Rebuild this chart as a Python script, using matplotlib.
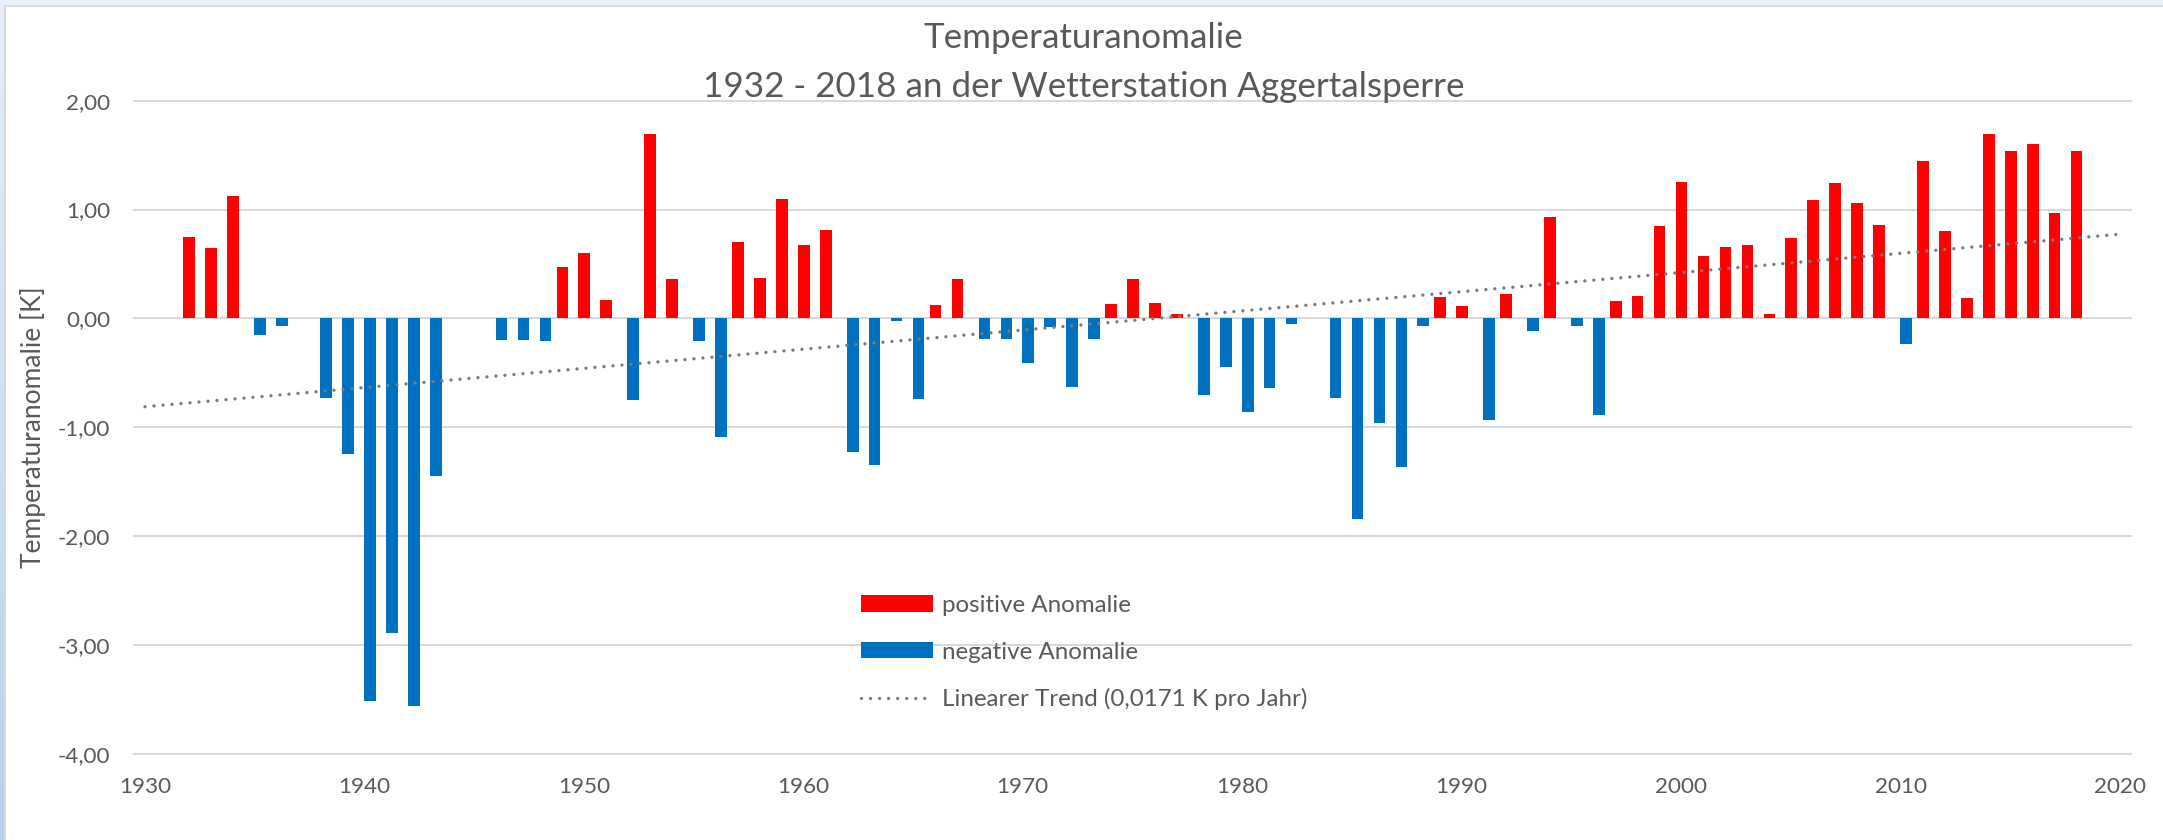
import numpy as np
import matplotlib
matplotlib.use("Agg")
import matplotlib.pyplot as plt
from matplotlib.patches import Patch, Rectangle
from matplotlib.lines import Line2D
from matplotlib.colors import LinearSegmentedColormap
from matplotlib.ticker import FuncFormatter

nan = np.nan

# ---------------- data ----------------
years = list(range(1932, 2019))
anomaly = [
    0.75, 0.65, 1.12, -0.15, -0.07, nan, -0.73, -1.25, -3.52, -2.89, -3.56, -1.45,   # 1932-1943
    nan, nan,                                                                          # 1944-1945
    -0.20, -0.20, -0.21, 0.47, 0.60, 0.17, -0.75, 1.69, 0.36, -0.21, -1.09,            # 1946-1956
    0.70, 0.37, 1.10, 0.67, 0.81, -1.23, -1.35, -0.02, -0.74, 0.12, 0.36,              # 1957-1967
    -0.19, -0.19, -0.41, -0.08, -0.63, -0.19, 0.13, 0.36, 0.14, 0.04, -0.70, -0.45,
    -0.86, -0.64, -0.05,                                                               # 1968-1982
    nan,                                                                               # 1983
    -0.73, -1.84, -0.96, -1.37, -0.07, 0.20, 0.11, -0.93, 0.22, -0.12, 0.93, -0.07,
    -0.89, 0.16, 0.21,                                                                 # 1984-1998
    0.85, 1.25, 0.57, 0.66, 0.67, 0.04, 0.74, 1.09, 1.24, 1.06, 0.86, -0.24, 1.45,
    0.80, 0.19, 1.69, 1.54, 1.60, 0.97, 1.54,                                          # 1999-2018
]
x_ticks = [1930, 1940, 1950, 1960, 1970, 1980, 1990, 2000, 2010, 2020]
y_ticks = [-4, -3, -2, -1, 0, 1, 2]
title_line1 = "Temperaturanomalie"
title_line2 = "1932 - 2018 an der Wetterstation Aggertalsperre"
y_label = "Temperaturanomalie [K]"
legend_labels = ["positive Anomalie", "negative Anomalie", "Linearer Trend (0,0171 K pro Jahr)"]
trend_range = [1930, 2020]

# ---------------- styles ----------------
RED = "#FF0000"
BLUE = "#0070C0"
TXT = "#595959"
GRID = "#D9D9D9"
TREND = "#7A7A7A"
plt.rcParams['font.family'] = ['Lato', 'DejaVu Sans']

W, H = 2163, 840
fig = plt.figure(figsize=(W / 100, H / 100), dpi=100)
fig.patch.set_facecolor("white")

left_px, right_px, top_px, bot_px = 134, 2131, 100.7, 753.7
ax = fig.add_axes([left_px / W, 1 - bot_px / H, (right_px - left_px) / W, (bot_px - top_px) / H])

yrs = np.array(years, dtype=float)
vals = np.array(anomaly, dtype=float)
pos = np.where(vals >= 0, vals, np.nan)
neg = np.where(vals < 0, vals, np.nan)

bw = 0.53
ax.bar(yrs + 0.02, pos, width=bw, color=RED, edgecolor="none", zorder=2)
ax.bar(yrs + 0.25, neg, width=bw, color=BLUE, edgecolor="none", zorder=2)

# linear trend fitted to data
m = ~np.isnan(vals)
slope, intercept = np.polyfit(yrs[m], vals[m], 1)
tx = np.array(trend_range, dtype=float)
dot_lw = 2.4
dot_style = (0, (0.01, 2.7))
ax.plot(tx, slope * tx + intercept, color=TREND, lw=dot_lw, linestyle=dot_style,
        dash_capstyle="round", zorder=3)

ax.set_xlim(1929.5, 2020.5)
ax.set_ylim(-4, 2)
ax.set_xticks(x_ticks)
ax.set_yticks(y_ticks)
ax.yaxis.set_major_formatter(FuncFormatter(lambda v, p: f"{v:.2f}".replace(".", ",")))
for s in ax.spines.values():
    s.set_visible(False)
ax.yaxis.grid(True, color=GRID, lw=1.5, zorder=0)
ax.set_axisbelow(True)
ax.tick_params(axis="both", length=0, labelsize=16.2, labelcolor=TXT)
ax.tick_params(axis="y", pad=17)
ax.tick_params(axis="x", pad=17)
for gl in ax.yaxis.get_gridlines():
    gl.set_clip_on(False)

handles = [Patch(facecolor=RED, edgecolor="none"),
           Patch(facecolor=BLUE, edgecolor="none"),
           Line2D([], [], color=TREND, lw=dot_lw, linestyle=dot_style, dash_capstyle="round")]
ax.legend(handles, legend_labels, loc="upper left", bbox_to_anchor=(0.364, 0.243),
          frameon=False, fontsize=17.4, labelcolor=TXT, handlelength=3.0,
          handleheight=0.65, handletextpad=0.34, labelspacing=1.06,
          borderpad=0, borderaxespad=0)

fig.text(0.501, 1 - 47.7 / H, title_line1, ha="center", va="baseline", fontsize=25.2, color=TXT)
fig.text(0.501, 1 - 96.7 / H, title_line2, ha="center", va="baseline", fontsize=25.2, color=TXT)
fig.text(33 / W, 1 - 427 / H, y_label, rotation=90, ha="center", va="center", fontsize=19, color=TXT)

# window frame decoration
fig.add_artist(Rectangle((0, 1 - 5 / H), 1, 5 / H, transform=fig.transFigure,
                         facecolor="#E9F1FA", edgecolor="none", zorder=5))
fig.add_artist(Rectangle((4 / W, 1 - 6.7 / H), 1, 1.7 / H, transform=fig.transFigure,
                         facecolor=GRID, edgecolor="none", zorder=5))
gax = fig.add_axes([0, 0, 4 / W, 1 - 5 / H])
cmap = LinearSegmentedColormap.from_list("edge", ["#E7EFF9", "#B3D2F0"])
gax.imshow(np.linspace(0, 1, 256).reshape(-1, 1), aspect="auto", cmap=cmap)
gax.axis("off")
fig.add_artist(Rectangle((4 / W, 0), 1.7 / W, 1 - 5 / H, transform=fig.transFigure,
                         facecolor=GRID, edgecolor="none", zorder=5))

fig.savefig("out.png", dpi=100)
